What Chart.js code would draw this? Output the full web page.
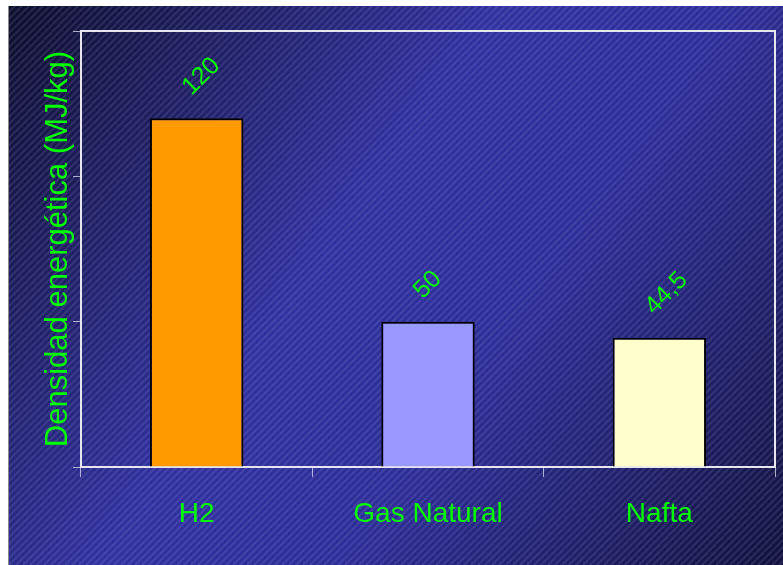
<!DOCTYPE html>
<html>
<head>
<meta charset="utf-8">
<script src="https://cdn.jsdelivr.net/npm/chart.js@4/dist/chart.umd.min.js"></script>
<style>
  html, body { margin: 0; padding: 0; background: #ffffff; }
  #wrap { width: 783px; height: 565px; position: relative; }
</style>
</head>
<body>
<div id="wrap"><canvas id="c" width="783" height="565"></canvas></div>
<script>
// Energy density per fuel (MJ/kg)
const categories = ['H2', 'Gas Natural', 'Nafta'];
const densityValues = [120, 50, 44.5];
const valueLabels = ['120', '50', '44,5'];
const barColors = ['#ff9900', '#9999ff', '#ffffcc'];
const yTicks = [0, 50, 100, 150];
const yTitle = 'Densidad energética (MJ/kg)';

const GREEN = '#00ff00';

// Slide-style backdrop: diagonal dark/blue gradient with fine hatch lines
const backdrop = {
  id: 'backdrop',
  beforeDraw(chart) {
    const ctx = chart.ctx;
    const W = chart.width, H = chart.height;
    ctx.save();
    ctx.fillStyle = '#ffffff';
    ctx.fillRect(0, 0, W, H);
    const x0 = 9, y0 = 6;
    const g = ctx.createLinearGradient(x0, y0, W, H);
    g.addColorStop(0, '#0e0e2c');
    g.addColorStop(0.42, '#3232a0');
    g.addColorStop(0.62, '#2e2e98');
    g.addColorStop(1, '#12123c');
    ctx.fillStyle = g;
    ctx.fillRect(x0, y0, W - x0, H - y0);
    ctx.beginPath();
    ctx.rect(x0, y0, W - x0, H - y0);
    ctx.clip();
    ctx.strokeStyle = 'rgba(200,200,255,0.13)';
    ctx.lineWidth = 2;
    for (let k = -H; k < W + H; k += 7) {
      ctx.beginPath();
      ctx.moveTo(k, H);
      ctx.lineTo(k + H, 0);
      ctx.stroke();
    }
    ctx.restore();
    ctx.save();
    ctx.fillStyle = '#8a8a8a';
    ctx.fillRect(8, 6, 1, H - 6);
    ctx.restore();
  }
};

// Frame lines on the top and right of the plot area
const frame = {
  id: 'frame',
  afterDatasetsDraw(chart) {
    const { ctx, chartArea: a } = chart;
    ctx.save();
    ctx.strokeStyle = '#e6e6ee';
    ctx.lineWidth = 2;
    ctx.beginPath();
    ctx.moveTo(a.left, a.top);
    ctx.lineTo(a.right, a.top);
    ctx.lineTo(a.right, a.bottom);
    ctx.stroke();
    ctx.restore();
  }
};

// Rotated value labels above each bar
const valueTags = {
  id: 'valueTags',
  afterDatasetsDraw(chart) {
    const ctx = chart.ctx;
    const meta = chart.getDatasetMeta(0);
    ctx.save();
    ctx.fillStyle = GREEN;
    ctx.font = '25px "Liberation Sans", Arial, sans-serif';
    ctx.textAlign = 'left';
    ctx.textBaseline = 'middle';
    meta.data.forEach((bar, i) => {
      ctx.save();
      ctx.translate(bar.x - 10, bar.y - 27);
      ctx.rotate(-Math.PI / 4);
      ctx.fillText(valueLabels[i], 0, 0);
      ctx.restore();
    });
    ctx.restore();
  }
};

new Chart(document.getElementById('c'), {
  type: 'bar',
  data: {
    labels: categories,
    datasets: [{
      data: densityValues,
      backgroundColor: barColors,
      borderColor: '#000000',
      borderWidth: 2,
      categoryPercentage: 0.8,
      barPercentage: 0.505
    }]
  },
  options: {
    responsive: false,
    animation: false,
    events: [],
    layout: { padding: { top: 31, right: 8, left: 0, bottom: 0 } },
    plugins: { legend: { display: false }, tooltip: { enabled: false } },
    scales: {
      x: {
        afterFit(s) { s.height = 98; },
        border: { display: true, color: '#e6e6ee', width: 2 },
        grid: { display: true, drawOnChartArea: false, drawTicks: true, tickLength: 10, color: 'rgba(220,220,240,0.75)', lineWidth: 1, offset: true },
        ticks: {
          color: GREEN,
          padding: 20,
          maxRotation: 0,
          font: { family: '"Liberation Sans", Arial, sans-serif', size: 28 }
        }
      },
      y: {
        min: 0,
        max: 150,
        afterFit(s) { s.width = 81; },
        afterBuildTicks(s) { s.ticks = yTicks.map(v => ({ value: v })); },
        border: { display: true, color: '#e6e6ee', width: 2 },
        grid: { display: true, drawOnChartArea: false, drawTicks: true, tickLength: 8, color: 'rgba(220,220,240,0.75)', lineWidth: 1 },
        ticks: { display: false },
        title: {
          display: true,
          text: yTitle,
          color: GREEN,
          padding: { top: 40, bottom: 0 },
          font: { family: '"Liberation Sans", Arial, sans-serif', size: 31, lineHeight: 1.2 }
        }
      }
    }
  },
  plugins: [backdrop, frame, valueTags]
});
</script>
</body>
</html>
